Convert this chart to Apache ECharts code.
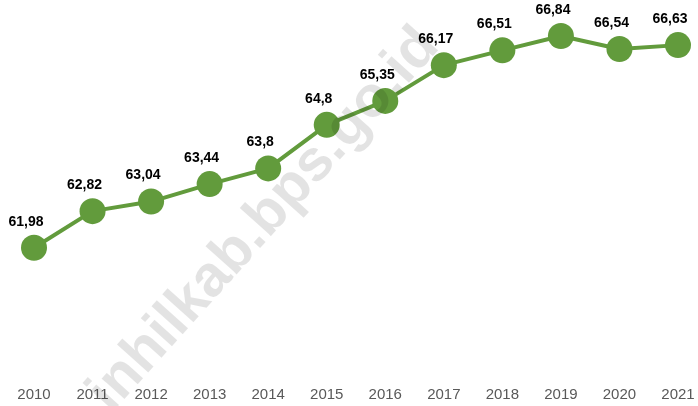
<!DOCTYPE html>
<html>
<head>
<meta charset="utf-8">
<script src="https://cdn.jsdelivr.net/npm/echarts@6/dist/echarts.min.js"></script>
<style>
  html, body { margin: 0; padding: 0; background: #fff; }
  #chart { width: 698px; height: 406px; }
</style>
</head>
<body>
<div id="chart"></div>
<script>
const years = ['2010', '2011', '2012', '2013', '2014', '2015', '2016', '2017', '2018', '2019', '2020', '2021'];
const values = [61.98, 62.82, 63.04, 63.44, 63.8, 64.8, 65.35, 66.17, 66.51, 66.84, 66.54, 66.63];

const chart = echarts.init(document.getElementById('chart'));

const option = {
    animation: false,
    grid: {
        left: 34,
        right: 20,
        top: 29,
        bottom: 72
    },
    xAxis: {
        type: 'category',
        data: years,
        boundaryGap: false,
        axisLine: { show: false },
        axisTick: { show: false },
        axisLabel: {
            margin: 53,
            color: '#595959',
            fontSize: 15,
            fontFamily: 'Liberation Sans, Arial, sans-serif'
        }
    },
    yAxis: {
        type: 'value',
        min: 60,
        max: 67,
        show: false,
        splitLine: { show: false }
    },
    // watermark
    graphic: [
        {
            type: 'text',
            x: 264,
            y: 220,
            z: 100,
            rotation: 48 * Math.PI / 180,
            style: {
                text: 'inhilkab.bps.go.id',
                x: 0,
                y: 0,
                align: 'center',
                verticalAlign: 'middle',
                fill: 'rgba(0,0,0,0.11)',
                font: 'bold 58px "Liberation Sans", Arial, sans-serif'
            }
        }
    ],
    series: [
        {
            type: 'line',
            data: values,
            symbol: 'circle',
            symbolSize: 26,
            itemStyle: { color: '#629b3c' },
            lineStyle: { color: '#629b3c', width: 4 },
            label: {
                show: true,
                position: 'top',
                distance: 6,
                offset: [-8, 0],
                color: '#000',
                fontSize: 14,
                fontWeight: 'bold',
                fontFamily: 'Liberation Sans, Arial, sans-serif',
                formatter: p => String(p.value).replace('.', ',')
            }
        }
    ]
};

chart.setOption(option);
</script>
</body>
</html>
